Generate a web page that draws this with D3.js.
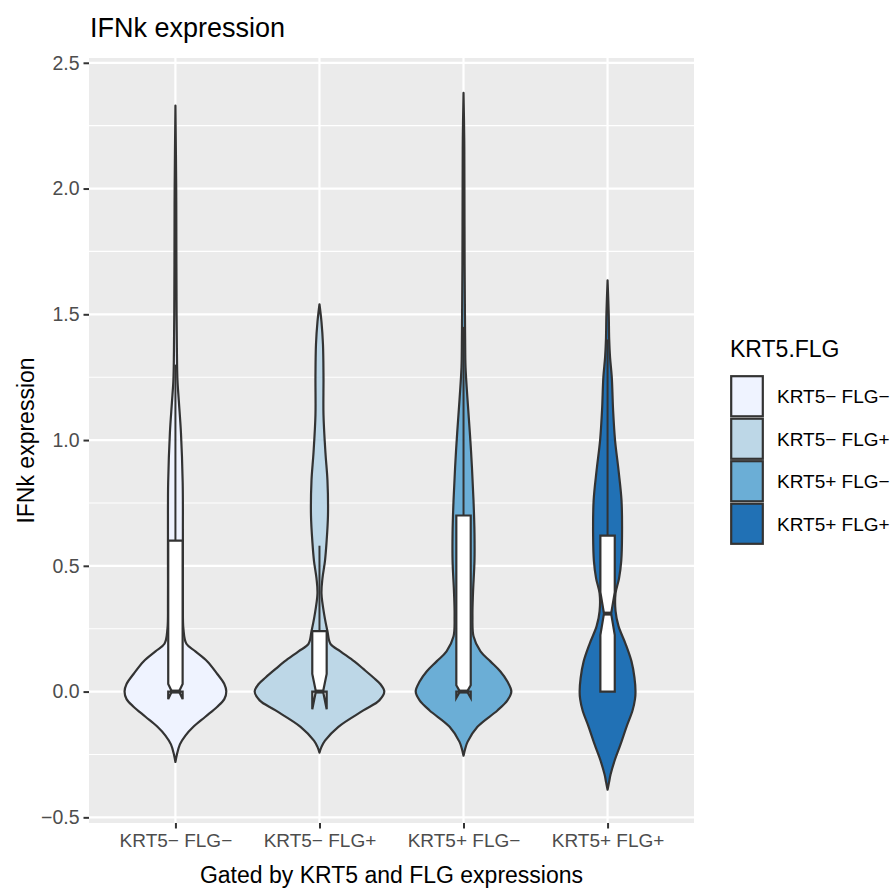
<!DOCTYPE html>
<html>
<head>
<meta charset="utf-8">
<script src="https://cdn.jsdelivr.net/npm/d3@7"></script>
<style>
  html, body { margin: 0; padding: 0; background: #ffffff; }
  text { font-family: "Liberation Sans", Arial, Helvetica, sans-serif; }
</style>
</head>
<body>
<svg id="chart" width="894" height="890"></svg>
<script>
// ---------------- DATA ----------------
const categories = ["KRT5\u2212 FLG\u2212", "KRT5\u2212 FLG+", "KRT5+ FLG\u2212", "KRT5+ FLG+"];
const fillColors = ["#EFF3FF", "#BDD7E7", "#6BAED6", "#2171B5"];
const yTicks = [-0.5, 0, 0.5, 1, 1.5, 2, 2.5];
const yTickLabels = ["\u22120.5", "0.0", "0.5", "1.0", "1.5", "2.0", "2.5"];
const yMinorTicks = [-0.25, 0.25, 0.75, 1.25, 1.75, 2.25];

// violin density profiles (expression value, relative density)
const dens1Y = [-0.28, -0.25, -0.21, -0.175, -0.14, -0.10, -0.06, -0.03, 0, 0.03, 0.07, 0.12, 0.16, 0.19, 0.25, 0.35, 0.5, 0.63, 0.83, 1.03, 1.15, 1.24, 1.35, 1.5, 1.7, 2.0, 2.33];
const dens1D = [0, 0.023, 0.069, 0.154, 0.277, 0.462, 0.646, 0.754, 0.785, 0.754, 0.646, 0.492, 0.308, 0.169, 0.123, 0.115, 0.115, 0.115, 0.112, 0.085, 0.054, 0.031, 0.023, 0.018, 0.015, 0.012, 0];

const dens2Y = [-0.243, -0.22, -0.195, -0.14, -0.075, -0.035, 0, 0.03, 0.056, 0.09, 0.12, 0.16, 0.19, 0.24, 0.3, 0.39, 0.45, 0.52, 0.59, 0.7, 0.84, 0.95, 1.1, 1.25, 1.38, 1.47, 1.54];
const dens2D = [0, 0.031, 0.085, 0.292, 0.677, 0.923, 1, 0.938, 0.831, 0.677, 0.538, 0.323, 0.169, 0.123, 0.077, 0.031, 0.046, 0.085, 0.108, 0.131, 0.123, 0.092, 0.062, 0.062, 0.054, 0.031, 0];

const dens3Y = [-0.255, -0.23, -0.2, -0.14, -0.075, -0.035, 0, 0.04, 0.08, 0.12, 0.16, 0.22, 0.3, 0.39, 0.52, 0.63, 0.76, 0.96, 1.16, 1.29, 1.4, 1.5, 1.7, 2.0, 2.2, 2.38];
const dens3D = [0, 0.023, 0.062, 0.215, 0.523, 0.677, 0.738, 0.677, 0.569, 0.415, 0.262, 0.154, 0.138, 0.146, 0.169, 0.169, 0.154, 0.115, 0.062, 0.031, 0.025, 0.022, 0.017, 0.014, 0.011, 0];

const dens4Y = [-0.39, -0.36, -0.33, -0.275, -0.21, -0.14, -0.075, -0.03, 0, 0.055, 0.12, 0.19, 0.26, 0.32, 0.39, 0.45, 0.52, 0.62, 0.76, 0.88, 1.0, 1.12, 1.25, 1.33, 1.4, 1.5, 1.635];
const dens4D = [0, 0.023, 0.046, 0.108, 0.2, 0.292, 0.385, 0.423, 0.431, 0.415, 0.369, 0.277, 0.169, 0.123, 0.123, 0.177, 0.211, 0.223, 0.215, 0.169, 0.115, 0.085, 0.065, 0.038, 0.025, 0.018, 0];

// boxplot statistics
const boxQ1 = [0, 0, 0, 0];
const boxMedian = [0, 0, 0, 0.31];
const boxQ3 = [0.60, 0.24, 0.70, 0.62];
const whiskerHigh = [1.30, 0.58, 1.45, 1.40];
const whiskerLow = [0, 0, 0, 0];
const notchHalf = [0.03, 0.07, 0.025, 0.085];

const titleText = "IFNk expression";
const yTitle = "IFNk expression";
const xTitle = "Gated by KRT5 and FLG expressions";
const legendTitle = "KRT5.FLG";

// ---------------- LAYOUT ----------------
const panel = { left: 89, right: 694, top: 58, bottom: 823 };
const svg = d3.select("#chart");

const x = d3.scalePoint().domain(categories).range([panel.left, panel.right]).padding(0.6);
const step = x.step();
const y = d3.scaleLinear().domain([-0.5225, 2.519]).range([panel.bottom, panel.top]);
const wScale = d3.scaleLinear().domain([0, 1]).range([0, 0.45 * step]);

// panel background
svg.append("rect")
  .attr("x", panel.left).attr("y", panel.top)
  .attr("width", panel.right - panel.left).attr("height", panel.bottom - panel.top)
  .attr("fill", "#EBEBEB");

const grid = svg.append("g");
grid.selectAll("line.minor").data(yMinorTicks).enter().append("line")
  .attr("x1", panel.left).attr("x2", panel.right)
  .attr("y1", d => y(d)).attr("y2", d => y(d))
  .attr("stroke", "#ffffff").attr("stroke-width", 1.1);
grid.selectAll("line.major").data(yTicks).enter().append("line")
  .attr("x1", panel.left).attr("x2", panel.right)
  .attr("y1", d => y(d)).attr("y2", d => y(d))
  .attr("stroke", "#ffffff").attr("stroke-width", 2.2);
grid.selectAll("line.vmajor").data(categories).enter().append("line")
  .attr("y1", panel.top).attr("y2", panel.bottom)
  .attr("x1", d => x(d)).attr("x2", d => x(d))
  .attr("stroke", "#ffffff").attr("stroke-width", 2.2);

// violins
const densY = [dens1Y, dens2Y, dens3Y, dens4Y];
const densD = [dens1D, dens2D, dens3D, dens4D];
const violinG = svg.append("g");
categories.forEach((c, i) => {
  const pts = densY[i].map((v, k) => ({ v: v, d: densD[i][k] }));
  const cx = x(c);
  const area = d3.area()
    .y(p => y(p.v))
    .x0(p => cx - wScale(p.d))
    .x1(p => cx + wScale(p.d))
    .curve(d3.curveCatmullRom.alpha(0.5));
  violinG.append("path")
    .attr("d", area(pts))
    .attr("fill", fillColors[i])
    .attr("stroke", "#333333")
    .attr("stroke-width", 2.2)
    .attr("stroke-linejoin", "round");
});

// boxplots (notched)
const boxW = 0.1 * step;
const boxG = svg.append("g");
categories.forEach((c, i) => {
  const cx = x(c);
  const xmin = cx - boxW / 2, xmax = cx + boxW / 2;
  const indent = (1 - 0.5) * boxW / 2;
  // whiskers
  if (whiskerHigh[i] > boxQ3[i]) {
    boxG.append("line").attr("x1", cx).attr("x2", cx)
      .attr("y1", y(boxQ3[i])).attr("y2", y(whiskerHigh[i]))
      .attr("stroke", "#333333").attr("stroke-width", 2);
  }
  if (whiskerLow[i] < boxQ1[i]) {
    boxG.append("line").attr("x1", cx).attr("x2", cx)
      .attr("y1", y(boxQ1[i])).attr("y2", y(whiskerLow[i]))
      .attr("stroke", "#333333").attr("stroke-width", 2);
  }
  const nu = boxMedian[i] + notchHalf[i], nl = boxMedian[i] - notchHalf[i];
  const poly = [
    [xmin, boxQ3[i]], [xmin, nu], [xmin + indent, boxMedian[i]], [xmin, nl], [xmin, boxQ1[i]],
    [xmax, boxQ1[i]], [xmax, nl], [xmax - indent, boxMedian[i]], [xmax, nu], [xmax, boxQ3[i]]
  ];
  const line = d3.line().x(p => p[0]).y(p => y(p[1]));
  boxG.append("path")
    .attr("d", line(poly) + "Z")
    .attr("fill", "#ffffff")
    .attr("stroke", "#333333")
    .attr("stroke-width", 2.2)
    .attr("stroke-linejoin", "miter");
  boxG.append("line")
    .attr("x1", xmin + indent).attr("x2", xmax - indent)
    .attr("y1", y(boxMedian[i])).attr("y2", y(boxMedian[i]))
    .attr("stroke", "#333333").attr("stroke-width", 4);
});

// axes
const yAxis = d3.axisLeft(y).tickValues(yTicks).tickSize(5.5).tickPadding(4)
  .tickFormat((d, i) => yTickLabels[i]);
const yG = svg.append("g").attr("transform", `translate(${panel.left},0)`).call(yAxis);
yG.select(".domain").remove();
yG.selectAll(".tick line").attr("stroke", "#333333").attr("stroke-width", 2);
yG.selectAll(".tick text").attr("fill", "#4D4D4D").style("font-size", "19.5px")
  .style("font-family", '"Liberation Sans", Arial, sans-serif');

const xAxis = d3.axisBottom(x).tickSize(5.5).tickPadding(5);
const xG = svg.append("g").attr("transform", `translate(0,${panel.bottom})`).call(xAxis);
xG.select(".domain").remove();
xG.selectAll(".tick line").attr("stroke", "#333333").attr("stroke-width", 2);
xG.selectAll(".tick text").attr("fill", "#4D4D4D").style("font-size", "19px")
  .style("font-family", '"Liberation Sans", Arial, sans-serif');

// titles
svg.append("text").attr("x", 90).attr("y", 37)
  .style("font-size", "27px").attr("fill", "#000").text(titleText);
svg.append("text")
  .attr("transform", `translate(34,${(panel.top + panel.bottom) / 2}) rotate(-90)`)
  .attr("text-anchor", "middle").style("font-size", "23px").attr("fill", "#000").text(yTitle);
svg.append("text").attr("x", (panel.left + panel.right) / 2).attr("y", 883)
  .attr("text-anchor", "middle").style("font-size", "23px").attr("fill", "#000").text(xTitle);

// legend
const leg = svg.append("g");
const keyX = 730, keyTop = 375, keyW = 34, keyH = 42.5;
leg.append("text").attr("x", keyX).attr("y", 357).style("font-size", "23px").attr("fill", "#000").text(legendTitle);
categories.forEach((c, i) => {
  const ky = keyTop + i * keyH;
  leg.append("rect").attr("x", keyX).attr("y", ky).attr("width", keyW).attr("height", keyH)
    .attr("fill", "#F2F2F2");
  leg.append("rect").attr("x", keyX + 1.2).attr("y", ky + 1.2).attr("width", keyW - 2.4).attr("height", keyH - 2.4)
    .attr("fill", fillColors[i]).attr("stroke", "#333333").attr("stroke-width", 2.2);
  leg.append("text").attr("x", 777).attr("y", ky + keyH / 2 + 7)
    .style("font-size", "19px").attr("fill", "#000").text(c);
});
</script>
</body>
</html>
